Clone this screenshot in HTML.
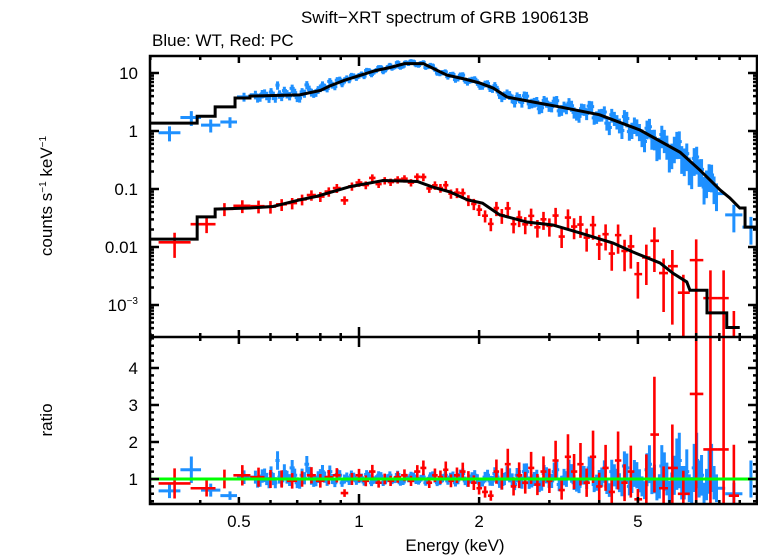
<!DOCTYPE html>
<html><head><meta charset="utf-8"><style>
html,body{margin:0;padding:0;background:#fff;}
svg{display:block;font-family:"Liberation Sans",sans-serif;}
</style></head><body>
<svg id="chart" width="758" height="556" viewBox="0 0 758 556">
<text x="445" y="23" font-size="17" text-anchor="middle">Swift−XRT spectrum of GRB 190613B</text>
<text x="152" y="46" font-size="17">Blue: WT, Red: PC</text>
<text transform="translate(52,196) rotate(-90)" font-size="17" text-anchor="middle">counts s<tspan font-size="10" dy="-6">−1</tspan><tspan dy="6"> keV</tspan><tspan font-size="10" dy="-6">−1</tspan></text>
<text transform="translate(52,420) rotate(-90)" font-size="17" text-anchor="middle">ratio</text>
<text x="455" y="551" font-size="17" text-anchor="middle">Energy (keV)</text>
<g id="g"></g>
</svg>
<script>
const blueE=[0.335,0.38,0.425,0.475,0.515,0.55,0.565,0.58,0.595,0.61,0.625,0.64,0.66,0.68,0.70,0.72,0.74,0.76,0.78,0.80,0.82,0.845,0.87,0.895,0.92,0.945,0.97,1.0,1.03,1.06,1.09,1.12,1.15,1.18,1.21,1.25,1.29,1.33,1.37,1.41,1.45,1.49,1.53,1.57,1.62,1.67,1.72,1.77,1.82,1.87,1.92,1.98,2.04,2.10,2.16,2.22,2.28,2.35,2.42,2.49,2.56,2.63,2.71,2.79,2.87,2.95,3.04,3.13,3.22,3.31,3.41,3.51,3.61,3.72,3.83,3.94,4.06,4.18,4.30,4.43,4.56,4.69,4.83,4.97,5.12,5.27,5.42,5.58,5.74,5.91,6.08,6.26,6.44,6.63,6.82,7.02,7.22,7.43,7.65,7.87,8.7,9.6];
const blueRatio=[0.68,1.25,0.7,0.55,1.05,
1.05,0.95,1.1,0.9,1.0,1.5,0.95,1.05,1.3,0.9,1.1,1.4,1.0,0.95,1.1,1.05,1.2,0.9,1.1,1.0,
0.95,1.05,1.0,0.92,1.08,0.97,1.1,0.9,1.03,0.95,1.12,0.92,1.0,1.08,0.93,1.05,0.97,1.1,0.9,1.02,
0.95,1.08,0.97,1.15,0.9,1.05,1.0,0.92,1.1,0.95,1.05,0.85,1.15,0.98,1.1,0.9,1.2,0.95,1.05,0.85,
1.1,0.95,1.25,0.9,1.0,1.15,0.85,1.1,0.95,1.3,0.9,1.05,0.8,1.2,1.0,0.75,1.3,0.9,1.1,0.8,
1.25,0.95,0.7,1.35,1.0,0.8,1.4,0.9,1.2,0.7,1.5,1.1,0.85,1.3,0.75,0.6,1.0];
const blueE2=[0.557,0.572,0.587,0.602,0.617,0.632,0.65,0.67,0.69,0.71,0.73,0.75,0.77,0.79,0.81,0.832,0.857,0.882,0.907,0.932,0.957,0.985,1.015,1.045,1.075,1.105,1.135,1.165,1.195,1.23,1.27,1.31,1.35,1.39,1.43,1.47,1.51,1.55,1.595,1.645,1.695,1.745,1.795,1.845,1.895,1.95,2.01,2.07,2.13,2.19,2.25,2.315,2.385,2.455,2.525,2.595,2.67,2.75,2.83,2.91,2.995,3.085,3.175,3.265,3.36,3.46,3.56,3.665,3.775,3.885,4.0,4.12,4.24,4.365,4.495,4.625,4.76,4.9,5.045,5.195,5.345,5.5,5.66,5.825,5.995,6.17,6.35,6.535,6.725,6.92,7.12,7.325,7.54,7.76];
const blueRatio2=[0.92,1.08,1.0,1.15,0.9,1.05,1.2,0.97,1.1,0.88,1.02,1.15,0.93,1.05,1.2,0.95,1.0,1.12,0.9,1.05,
1.1,0.95,1.03,1.12,0.9,1.0,1.08,0.95,1.1,0.98,0.9,1.05,1.1,0.95,1.02,0.9,1.08,1.0,0.93,1.1,
1.05,0.9,1.12,0.95,1.0,1.1,0.88,1.05,0.95,1.15,0.9,1.0,1.1,0.85,1.05,1.2,0.9,1.0,0.8,1.15,
0.95,1.2,0.85,1.05,1.25,0.9,0.8,1.1,1.3,0.85,1.0,1.2,0.7,1.1,0.9,1.35,0.8,1.15,0.95,0.7,
1.4,1.0,0.8,1.2,0.65,1.1,1.5,0.9,0.75,1.3,1.0,0.6,1.2,0.9];
const redE=[0.345,0.415,0.46,0.51,0.56,0.60,0.64,0.68,0.72,0.76,0.80,0.84,0.88,0.92,0.96,1.0,1.04,1.08,1.12,1.16,1.20,1.25,1.30,1.35,1.40,1.45,1.50,1.55,1.60,1.65,1.70,1.76,1.82,1.88,1.94,2.0,2.07,2.14,2.21,2.28,2.36,2.44,2.52,2.61,2.70,2.80,2.90,3.0,3.11,3.22,3.34,3.46,3.59,3.72,3.86,4.0,4.15,4.30,4.46,4.63,4.80,5.0,5.25,5.5,5.8,6.1,6.5,7.0,7.6,8.2,8.7];
const redRatio=[0.88,0.75,1.0,1.1,1.05,1.0,1.0,0.95,1.0,1.1,0.95,1.05,1.1,0.62,1.0,1.1,0.95,1.2,0.9,1.0,0.95,1.05,1.1,0.95,1.2,1.3,0.9,1.1,1.05,1.25,0.95,1.1,1.2,1.0,0.9,0.75,0.65,0.55,1.2,1.0,1.4,0.8,1.1,0.9,1.3,0.85,1.2,0.95,1.5,0.7,1.6,1.2,1.4,0.9,1.6,0.8,1.3,0.65,1.5,0.9,1.2,0.45,1.0,2.2,0.75,1.3,0.6,3.3,1.8,1.8,0.55];
const blueModelE=[0.30,0.393,0.393,0.436,0.436,0.489,0.489,0.533,0.533,0.71,0.80,0.846,0.92,1.0,1.1,1.2,1.3,1.45,1.66,1.85,2.01,2.17,2.35,2.73,3.19,4.01,5.06,6.38,7.16,8.04,8.5,9.0,9.28,9.28,9.9];
const blueModelV=[1.37,1.37,1.8,1.8,2.6,2.6,3.7,3.7,4.0,4.2,5.0,6.0,7.5,9.0,11,12.5,14.5,14.5,9.2,7.8,6.7,5.5,3.85,3.16,2.6,1.9,1.04,0.43,0.21,0.096,0.07,0.047,0.047,0.022,0.022];
const redModelE=[0.30,0.393,0.393,0.436,0.436,0.533,0.609,0.711,0.785,0.95,1.15,1.40,1.53,1.69,1.87,2.04,2.25,2.63,3.06,3.58,4.33,4.86,5.68,6.13,6.63,6.75,7.45,7.45,8.35,8.35,9.0];
const redModelV=[0.0137,0.0137,0.033,0.033,0.045,0.047,0.05,0.065,0.075,0.11,0.14,0.135,0.108,0.089,0.065,0.057,0.036,0.027,0.024,0.0175,0.0117,0.0082,0.0053,0.0035,0.0025,0.0018,0.0018,0.00073,0.00073,0.00041,0.00041];
const yTopTicks=[10,1,0.1,0.01];
const ratioTicks=[1,2,3,4];
const xTickLabels=[0.5,1,2,5];

const L=150,R=757,T=56,MID=337,B=504;
const X=e=>359+399*Math.log10(e);
const YT=v=>131-58*Math.log10(v);
const YR=r=>479-37*(r-1);
const NS='http://www.w3.org/2000/svg';
const rootG=document.getElementById('g');
function mk(tag,attrs,parent){const el=document.createElementNS(NS,tag);for(const k in attrs)el.setAttribute(k,attrs[k]);(parent||rootG).appendChild(el);return el;}
function modelAt(E,ME,MV){
  if(E<=ME[0])return MV[0];
  for(let i=1;i<ME.length;i++){
    if(E<=ME[i]){const a=ME[i-1],b=ME[i];if(b===a)return MV[i];
      const t=(Math.log(E)-Math.log(a))/(Math.log(b)-Math.log(a));
      return Math.exp(Math.log(MV[i-1])+t*(Math.log(MV[i])-Math.log(MV[i-1])));}
  }
  return MV[MV.length-1];
}
const defs=mk('defs',{});
const c1=mk('clipPath',{id:'ctop'},defs);mk('rect',{x:L,y:T,width:R-L,height:MID-T},c1);
const c2=mk('clipPath',{id:'cbot'},defs);mk('rect',{x:L,y:MID,width:R-L,height:B-MID},c2);
const topG=mk('g',{'clip-path':'url(#ctop)'});


const botG=mk('g',{'clip-path':'url(#cbot)'});



function drawSeries(E,Rt,ME,MV,color,errK,refM,name,sw,cap){
  const gt=mk('g',{stroke:color,'stroke-width':sw,fill:'none'},topG);
  
  
  const gb=mk('g',{stroke:color,'stroke-width':sw,fill:'none'},botG);
  
  
  for(let i=0;i<E.length;i++){
    const lo=i>0?Math.sqrt(E[i-1]*E[i]):E[i]*E[i]/Math.sqrt(E[i]*E[i+1]);
    const hi=i<E.length-1?Math.sqrt(E[i]*E[i+1]):E[i]*E[i]/Math.sqrt(E[i-1]*E[i]);
    const m=modelAt(E[i],ME,MV);
    const r=Rt[i];
    const ef=Math.min(cap,errK*Math.sqrt(refM/m));
    const x=X(E[i]),x0=X(lo),x1=X(hi);
    const v=m*r,vlo=Math.max(m*(r-ef*r),1e-6),vhi=m*(r+ef*r);
    const p=mk('path',{d:`M${x0},${YT(v)}H${x1}M${x},${YT(vlo)}V${YT(vhi)}`},gt);
    
    
    const q=mk('path',{d:`M${x0},${YR(r)}H${x1}M${x},${YR(r-ef*r)}V${YR(r+ef*r)}`},gb);
    
    
  }
}
drawSeries(blueE,blueRatio,blueModelE,blueModelV,'#1e90ff',0.09,14,'wt',3,0.5);
drawSeries(blueE2,blueRatio2,blueModelE,blueModelV,'#1e90ff',0.09,14,'wt-b',3,0.5);
drawSeries(redE,redRatio,redModelE,redModelV,'#ff0000',0.15,0.13,'pc',2.6,2.5);
function drawModel(ME,MV,name){
  let d='';for(let i=0;i<ME.length;i++)d+=(i?'L':'M')+X(ME[i])+','+YT(MV[i]);
  const p=mk('path',{d:d,stroke:'#000','stroke-width':3,fill:'none'},topG);
  
  
}
drawModel(blueModelE,blueModelV,'wt-model-line');
drawModel(redModelE,redModelV,'pc-model-line');
const gl=mk('line',{x1:L,x2:R,y1:YR(1),y2:YR(1),stroke:'#00ff00','stroke-width':3},botG);



const ax=mk('g',{stroke:'#000','stroke-width':2.5,fill:'none'});


mk('rect',{x:L,y:T,width:R-L,height:B-T},ax);
mk('line',{x1:L,x2:R,y1:MID,y2:MID},ax);
const xMinor=[0.3,0.4,0.6,0.7,0.8,0.9,3,4,6,7,8,9];
let d='';
xTickLabels.forEach(e=>{const x=X(e);const l=e===1?10:7;d+=`M${x},${T}v${l}M${x},${MID-l}v${2*l}M${x},${B}v-${l}`;});
xMinor.forEach(e=>{const x=X(e);d+=`M${x},${T}v4M${x},${MID-4}v8M${x},${B}v-4`;});
for(let dec=-4;dec<=1;dec++)for(let k=1;k<10;k++){const v=k*Math.pow(10,dec);const y=YT(v);if(y<T||y>MID)continue;const l=k===1?9:4;d+=`M${L},${y}h${l}M${R},${y}h-${l}`;}
for(let r=0.4;r<4.85;r+=0.2){const y=YR(r);const maj=Math.abs(r-Math.round(r))<0.01;const l=maj?9:4;d+=`M${L},${y}h${l}M${R},${y}h-${l}`;}
mk('path',{d:d},ax);
xTickLabels.forEach(e=>{const t=mk('text',{x:X(e),y:527,'font-size':17,'text-anchor':'middle'});t.textContent=String(e);

});
yTopTicks.forEach(v=>{const t=mk('text',{x:L-12,y:YT(v)+6,'font-size':17,'text-anchor':'end'});t.textContent=String(v);

});
const te=mk('text',{x:L-12,y:YT(0.001)+6,'font-size':17,'text-anchor':'end'});
te.innerHTML='10<tspan font-size="10" dy="-7">−3</tspan>';


ratioTicks.forEach(r=>{const t=mk('text',{x:L-12,y:YR(r)+6,'font-size':17,'text-anchor':'end'});t.textContent=String(r);

});
</script>
</body></html>
